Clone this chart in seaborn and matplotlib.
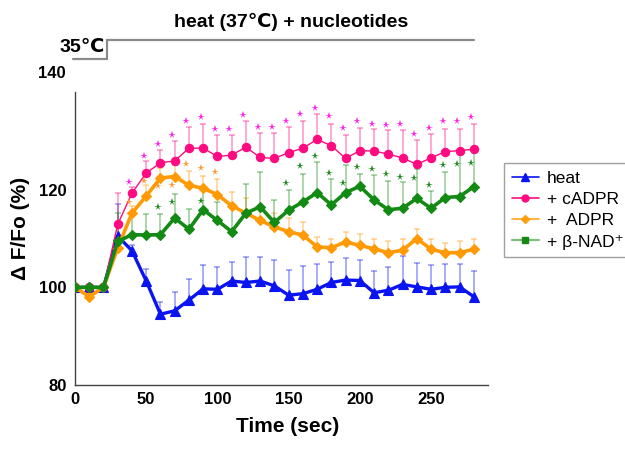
import numpy as np
import pandas as pd
import matplotlib
matplotlib.use("Agg")
import matplotlib.pyplot as plt
import matplotlib.transforms as mtransforms
from matplotlib.lines import Line2D
import seaborn as sns

# ---------------- data ----------------
time = list(range(0, 290, 10))

heat = [100, 100, 100, 110.5, 107.5, 101.3, 94.5, 95.2, 97.4, 99.7, 99.6, 101.3, 101.0, 101.3, 100.3,
        98.4, 98.7, 99.6, 101.0, 101.5, 101.4, 98.9, 99.4, 100.6, 100.1, 99.6, 100.0, 100.1, 98.1]
heat_err = [0, 0, 0, 6.6, 1.2, 2.5, 2.6, 3.8, 4.4, 4.9, 4.6, 3.9, 5.2, 4.9, 5.3,
            5.1, 5.7, 5.2, 4.2, 4.5, 4.3, 4.5, 4.8, 5.8, 4.9, 4.9, 4.8, 4.7, 5.3]

cadpr = [100, 100, 100, 112.9, 119.3, 123.4, 125.5, 125.9, 128.5, 128.5, 126.8, 127.1, 128.7, 126.6, 126.4,
         127.6, 128.5, 130.3, 129.0, 126.4, 128.0, 127.9, 127.3, 126.5, 125.2, 126.5, 127.8, 128.0, 128.3]
cadpr_err = [0, 0, 0, 6.4, 1.2, 2.4, 2.7, 4.0, 4.3, 4.9, 4.4, 4.0, 5.4, 5.1, 5.2,
             5.2, 5.6, 5.2, 4.4, 4.8, 4.6, 4.6, 4.9, 5.7, 4.9, 4.9, 4.7, 4.5, 5.1]

adpr = [100, 98.1, 100, 108.1, 115.2, 118.7, 122.4, 122.7, 120.9, 120.3, 119.0, 116.7, 115.2, 113.7, 112.4,
        111.4, 110.7, 108.3, 108.1, 109.3, 108.6, 107.9, 107.1, 107.6, 110.0, 107.8, 107.1, 107.1, 107.8]
adpr_err = [0, 0, 0, 2.5, 1.5, 2.2, 2.1, 2.3, 3.0, 2.6, 3.2, 2.8, 3.1, 2.8, 2.8,
            2.8, 2.6, 2.0, 1.7, 2.1, 2.4, 1.9, 2.4, 2.4, 2.0, 2.0, 2.0, 2.4, 2.2]

nad = [100, 100, 100, 109.4, 110.8, 110.7, 110.8, 114.2, 111.9, 115.9, 113.7, 111.4, 115.2, 116.5, 113.3,
       115.8, 117.5, 119.4, 116.9, 119.4, 120.7, 117.9, 115.9, 116.2, 118.2, 116.2, 118.4, 118.6, 120.6]
nad_err = [0, 0, 0, 5.8, 4.2, 4.3, 4.2, 4.9, 4.2, 4.7, 3.8, 5.2, 5.9, 7.1, 4.5,
           4.2, 5.8, 6.2, 5.2, 5.7, 2.6, 5.2, 5.8, 5.3, 6.0, 3.5, 5.3, 9.2, 7.4]

# significance markers (time, level)
cadpr_sig_t = list(range(40, 290, 10))
cadpr_sig_y = [121.6, 127.0, 129.4, 131.1, 134.1, 134.8, 132.4, 132.4, 135.2, 132.9, 132.8, 134.1, 135.4,
               136.8, 135.0, 132.6, 134.1, 133.5, 133.3, 133.5, 131.4, 132.7, 134.1, 134.1, 134.8]
adpr_sig_t = [40, 50, 60, 70, 80, 90, 100]
adpr_sig_y = [117.5, 121.7, 120.7, 120.9, 125.2, 124.4, 123.6]
nad_sig_t = [60, 70, 90, 150, 160, 170, 180, 190, 200, 210, 220, 230, 240, 250, 260, 270, 280]
nad_sig_y = [116.5, 117.5, 117.6, 121.4, 124.8, 126.8, 123.5, 121.4, 124.6, 124.3, 123.2, 122.6,
             122.4, 120.9, 125.0, 125.2, 125.4]

labels = ["heat", "+ cADPR", "+  ADPR", "+ β-NAD⁺"]
heat_on = 22.5   # time at which 37℃ heat starts
temp_labels = ["35℃", "heat (37℃) + nucleotides"]

# ---------------- style ----------------
sns.set_theme(style="white")
plt.rcParams["font.family"] = ["Liberation Sans", "DejaVu Sans"]
plt.rcParams["font.weight"] = "bold"
plt.rcParams["text.color"] = "black"
plt.rcParams["axes.labelcolor"] = "black"
plt.rcParams["xtick.color"] = "black"
plt.rcParams["ytick.color"] = "black"

c_heat = "#0a14f0"
c_cadpr = "#ff0a80"
c_adpr = "#ff9a05"
c_nad = "#138a13"
c_star_cadpr = "#ff22ee"
c_star_adpr = "#ff9a30"
c_star_nad = "#1f8a1f"

fig = plt.figure(figsize=(6.25, 4.5), dpi=100)
ax = fig.add_axes([0.12, 0.1444, 0.6608, 0.6511])

t = np.array(time)
series = [
    (heat, heat_err, c_heat, "^", 6.5, 2.4),
    (cadpr, cadpr_err, c_cadpr, "o", 6.0, 1.0),
    (adpr, adpr_err, c_adpr, "D", 5.0, 2.6),
    (nad, nad_err, c_nad, "D", 5.5, 2.6),
]

# error bars (upper only) behind
for vals, err, col, mk, ms, lw in series:
    v = np.array(vals)
    e = np.array(err)
    ax.errorbar(t, v, yerr=[np.zeros_like(e), e], fmt="none", ecolor=col, alpha=0.35,
                elinewidth=1.4, capsize=2.5, capthick=1.4, zorder=1)

# lines with markers (seaborn)
for vals, err, col, mk, ms, lw in series:
    sns.lineplot(x=t, y=vals, ax=ax, color=col, marker=mk, markersize=ms, linewidth=lw,
                 markeredgecolor=col, markeredgewidth=0.8, zorder=3, legend=False)

# significance stars
shift = mtransforms.ScaledTranslation(-2.5 / 100, 0, fig.dpi_scale_trans)
for st, sy, col in [(cadpr_sig_t, cadpr_sig_y, c_star_cadpr),
                    (adpr_sig_t, adpr_sig_y, c_star_adpr),
                    (nad_sig_t, nad_sig_y, c_star_nad)]:
    ax.plot(st, sy, ls="none", marker="*", markersize=5.5, color=col, markeredgewidth=0,
            transform=ax.transData + shift, zorder=4)

# axes
ax.set_xlim(0, 290)
ax.set_ylim(80, 140)
ax.set_xticks([0, 50, 100, 150, 200, 250])
ax.set_yticks([80, 90, 100, 110, 120, 130, 140])
ax.set_yticklabels(["80", "", "100", "", "120", "", ""])
ax.tick_params(axis="both", direction="in", length=4, width=0.8, color="#444444",
               labelsize=12, labelcolor="black")
ax.tick_params(axis="y", pad=6)
ax.tick_params(axis="x", pad=5)
for lab in ax.get_xticklabels() + ax.get_yticklabels():
    lab.set_fontweight("bold")
ax.annotate("140", xy=(0, 140), xycoords=("axes fraction", "data"), xytext=(-9, 19),
            textcoords="offset pixels", ha="right", va="center", fontsize=12,
            fontweight="bold", color="black")

for s in ["top", "right"]:
    ax.spines[s].set_visible(False)
for s in ["left", "bottom"]:
    ax.spines[s].set_color("#444444")
    ax.spines[s].set_linewidth(1.0)

ax.set_xlabel("Time (sec)", fontsize=15, fontweight="bold", color="black")
ax.xaxis.set_label_coords(0.516, -0.143)
ax.xaxis.label.set_verticalalignment("center")
ax.set_ylabel("Δ F/Fo (%)", fontsize=15, fontweight="bold", color="black")
ax.yaxis.set_label_coords(-0.133, 0.536)
ax.yaxis.label.set_verticalalignment("center")

# temperature protocol line
blend = mtransforms.blended_transform_factory(ax.transData, ax.transAxes)
ax.plot([-1.4, heat_on, heat_on, 280], [1.1126, 1.1126, 1.1775, 1.1775], transform=blend,
        clip_on=False, color="#8a8a8a", lw=1.6, solid_joinstyle="miter")
fig.text(82 / 625, 1 - 47.5 / 450, temp_labels[0], ha="center", va="center",
         fontsize=14, fontweight="bold", color="black")
fig.text(291 / 625, 1 - 22 / 450, temp_labels[1], ha="center", va="center",
         fontsize=14, fontweight="bold", color="black")

# legend
handles = [
    Line2D([], [], color=c_heat, marker="^", markersize=6, lw=1.2),
    Line2D([], [], color=c_cadpr, marker="o", markersize=5, lw=1.2),
    Line2D([], [], color=c_adpr, marker="D", markersize=4.5, lw=1.2, alpha=0.9),
    Line2D([], [], color="#7fbf7f", marker="s", markersize=4.5, lw=1.6,
           markerfacecolor=c_nad, markeredgecolor=c_nad),
]
leg = fig.legend(handles, labels, loc="upper left", bbox_to_anchor=(0.806, 0.638),
                 frameon=True, fancybox=False, fontsize=12.5, handlelength=1.6,
                 handletextpad=0.45, labelspacing=0.35, borderpad=0.45, borderaxespad=0)
leg.get_frame().set_edgecolor("#888888")
leg.get_frame().set_linewidth(1.0)
for txt in leg.get_texts():
    txt.set_fontweight("normal")
    txt.set_color("black")

fig.savefig("out.png", dpi=100)
